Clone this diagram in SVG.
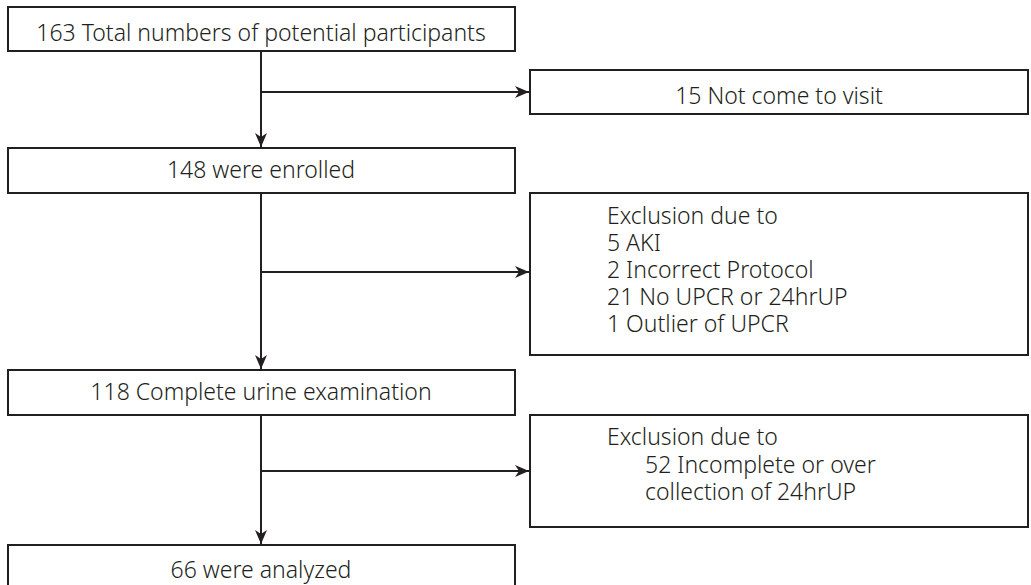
<svg xmlns="http://www.w3.org/2000/svg" width="1031" height="585" viewBox="0 0 1031 585">
<style>
.box{fill:#fff;stroke:#231f20;stroke-width:2}
.t{font-family:"Noto Sans","Open Sans",sans-serif;font-size:23px;font-weight:300;fill:#231f20}
.c{text-anchor:middle}
.ln{stroke:#231f20;stroke-width:2;fill:none}
</style>
<defs>
<marker id="ah" viewBox="0 0 14 12" refX="14" refY="6" markerWidth="14" markerHeight="12" markerUnits="userSpaceOnUse" orient="auto">
<path d="M0,0 L14,6 L0,12 L4,6 Z" fill="#231f20"/>
</marker>
</defs>
<rect width="1031" height="585" fill="#fff"/>
<g id="connectors">
<line class="ln" x1="261" y1="51" x2="261" y2="147" marker-end="url(#ah)"/>
<line class="ln" x1="261" y1="92" x2="529" y2="92" marker-end="url(#ah)"/>
<line class="ln" x1="261" y1="193" x2="261" y2="369" marker-end="url(#ah)"/>
<line class="ln" x1="261" y1="272" x2="529" y2="272" marker-end="url(#ah)"/>
<line class="ln" x1="261" y1="415" x2="261" y2="544" marker-end="url(#ah)"/>
<line class="ln" x1="261" y1="471" x2="529" y2="471" marker-end="url(#ah)"/>
</g>
<g id="n1"><rect class="box" x="8" y="7" width="507" height="44"/><text class="t c" x="261" y="41">163 Total numbers of potential participants</text></g>
<g id="n2"><rect class="box" x="530" y="70" width="498" height="44"/><text class="t c" x="779" y="104">15 Not come to visit</text></g>
<g id="n3"><rect class="box" x="8" y="148" width="507" height="45"/><text class="t c" x="261" y="178">148 were enrolled</text></g>
<g id="n4"><rect class="box" x="530" y="193" width="498" height="162"/>
<text class="t"><tspan x="607" y="224">Exclusion due to</tspan><tspan x="607" y="251">5 AKI</tspan><tspan x="607" y="278">2 Incorrect Protocol</tspan><tspan x="607" y="305">21 No UPCR or 24hrUP</tspan><tspan x="607" y="332">1 Outlier of UPCR</tspan></text>
</g>
<g id="n5"><rect class="box" x="8" y="370" width="507" height="45"/><text class="t c" x="261" y="400">118 Complete urine examination</text></g>
<g id="n6"><rect class="box" x="530" y="415" width="498" height="112"/>
<text class="t"><tspan x="607" y="445">Exclusion due to</tspan><tspan x="645" y="473">52 Incomplete or over</tspan><tspan x="645" y="500">collection of 24hrUP</tspan></text>
</g>
<g id="n7"><rect class="box" x="8" y="545" width="507" height="46"/><text class="t c" x="261" y="578">66 were analyzed</text></g>
</svg>
